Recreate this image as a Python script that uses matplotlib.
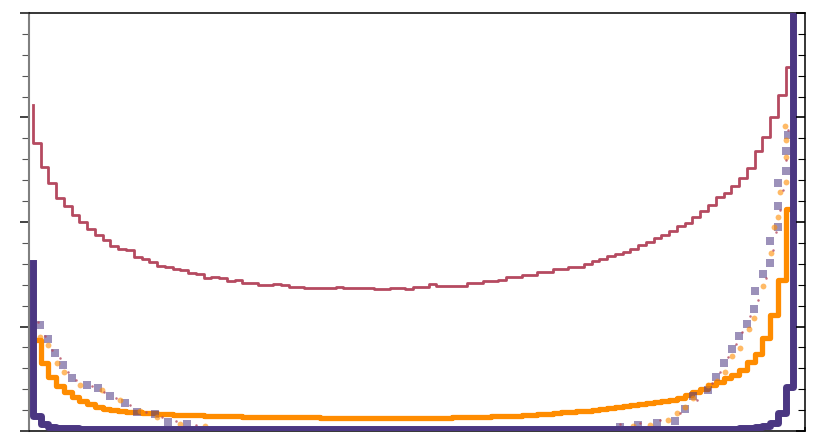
import matplotlib
matplotlib.use("Agg")
import matplotlib.pyplot as plt
import numpy as np

# 100 bins on [0, 1]; values plotted at bin centres with step 'pre'
bin_centers = (np.arange(100) + 0.5) / 100

red_hist = [
    15.6, 13.8, 12.65, 11.88, 11.16, 10.77, 10.35, 10.0, 9.67, 9.38,
    9.14, 8.87, 8.71, 8.66, 8.34, 8.21, 8.07, 7.9, 7.83, 7.75,
    7.7, 7.57, 7.53, 7.34, 7.38, 7.3, 7.18, 7.22, 7.07, 7.1,
    6.99, 6.97, 7.03, 6.97, 6.89, 6.89, 6.83, 6.83, 6.86, 6.86,
    6.9, 6.85, 6.85, 6.84, 6.85, 6.8, 6.79, 6.83, 6.83, 6.79,
    6.9, 6.9, 7.02, 6.95, 6.95, 6.94, 6.94, 7.07, 7.07, 7.18,
    7.18, 7.22, 7.35, 7.35, 7.46, 7.46, 7.62, 7.62, 7.74, 7.74,
    7.86, 7.86, 7.98, 8.13, 8.24, 8.35, 8.48, 8.58, 8.7, 8.88,
    9.03, 9.25, 9.38, 9.57, 9.81, 9.97, 10.22, 10.54, 10.81, 11.21,
    11.4, 11.7, 12.1, 12.6, 13.4, 14.08, 15.04, 16.08, 17.43, 24.0,
]

orange_hist = [
    5.0, 4.35, 3.25, 2.58, 2.15, 1.87, 1.63, 1.44, 1.29, 1.15,
    1.05, 1.0, 0.96, 0.92, 0.89, 0.86, 0.84, 0.82, 0.8, 0.78,
    0.77, 0.76, 0.75, 0.74, 0.73, 0.72, 0.71, 0.7, 0.69, 0.68,
    0.68, 0.67, 0.67, 0.66, 0.66, 0.65, 0.65, 0.65, 0.64, 0.64,
    0.64, 0.64, 0.64, 0.64, 0.64, 0.64, 0.64, 0.64, 0.64, 0.64,
    0.64, 0.64, 0.64, 0.64, 0.64, 0.65, 0.66, 0.67, 0.68, 0.69,
    0.7, 0.71, 0.72, 0.74, 0.76, 0.78, 0.8, 0.83, 0.86, 0.89,
    0.92, 0.95, 0.98, 1.02, 1.06, 1.1, 1.15, 1.2, 1.25, 1.3,
    1.35, 1.4, 1.45, 1.5, 1.6, 1.72, 1.88, 2.02, 2.2, 2.35,
    2.52, 2.7, 2.92, 3.3, 3.7, 4.45, 5.55, 7.22, 10.6, 24.0,
]

purple_hist = [
    8.02, 0.72, 0.32, 0.2, 0.15, 0.13, 0.12, 0.11, 0.1, 0.1,
    0.09, 0.09, 0.09, 0.09, 0.09, 0.09, 0.09, 0.09, 0.09, 0.09,
    0.08, 0.08, 0.08, 0.08, 0.08, 0.08, 0.08, 0.08, 0.08, 0.08,
    0.08, 0.08, 0.08, 0.08, 0.08, 0.08, 0.08, 0.08, 0.08, 0.08,
    0.08, 0.08, 0.08, 0.08, 0.08, 0.08, 0.08, 0.08, 0.08, 0.08,
    0.08, 0.08, 0.08, 0.08, 0.08, 0.08, 0.08, 0.08, 0.08, 0.08,
    0.08, 0.08, 0.08, 0.08, 0.08, 0.08, 0.08, 0.08, 0.08, 0.08,
    0.08, 0.08, 0.08, 0.08, 0.08, 0.08, 0.08, 0.08, 0.08, 0.08,
    0.09, 0.09, 0.09, 0.09, 0.09, 0.09, 0.09, 0.09, 0.09, 0.09,
    0.1, 0.11, 0.12, 0.14, 0.18, 0.25, 0.38, 0.86, 2.12, 30.0,
]

# sampled estimates (scatter)
square_x = [0.0142, 0.0241, 0.0335, 0.0442, 0.055, 0.0744, 0.0893, 0.1044, 0.1237,
            0.1388, 0.1624, 0.1795, 0.2032,
            0.7616, 0.7852, 0.8089, 0.8325, 0.8454, 0.8553, 0.8746, 0.8849, 0.8956,
            0.9055, 0.9153, 0.9249, 0.9343, 0.9356, 0.9455, 0.9549, 0.9549, 0.9648,
            0.9652, 0.9652, 0.9751, 0.9751, 0.9781]
square_y = [5.07, 4.39, 3.72, 3.16, 2.52, 2.2, 2.04, 1.69, 1.33,
            0.92, 0.81, 0.44, 0.33,
            0.21, 0.29, 0.37, 0.49, 1.04, 1.67, 1.96, 2.6, 3.27,
            3.92, 4.55, 5.12, 5.84, 6.71, 7.51, 8.05, 9.09, 9.78,
            10.77, 11.87, 12.44, 13.41, 14.16]

circle_x = [0.0142, 0.0249, 0.0357, 0.0455, 0.0657, 0.0937, 0.1173, 0.143, 0.1646,
            0.1946, 0.2268,
            0.7784, 0.8003, 0.8238, 0.8354, 0.8454, 0.8561, 0.8754, 0.8862, 0.8969,
            0.9055, 0.9162, 0.9282, 0.9343, 0.9463, 0.9558, 0.96, 0.9656, 0.9678,
            0.9751, 0.9751, 0.9751, 0.9742]
circle_y = [4.48, 4.11, 3.24, 2.84, 2.2, 1.96, 1.48, 0.96, 0.68,
            0.33, 0.24,
            0.24, 0.29, 0.53, 0.85, 1.16, 1.56, 2.2, 2.41, 2.84,
            3.59, 3.96, 4.87, 5.39, 6.94, 8.54, 9.75, 10.22, 11.45,
            11.93, 13.12, 13.92, 14.59]

dot_x = [0.0116, 0.0206, 0.0296, 0.04, 0.0503, 0.0606, 0.0812, 0.0966, 0.1121,
         0.1302, 0.1508, 0.1714, 0.1894, 0.2152,
         0.7616, 0.7874, 0.8131, 0.8389, 0.8608, 0.8802, 0.8905, 0.9008, 0.9111,
         0.9188, 0.9291, 0.9394, 0.9497, 0.9588, 0.9626, 0.9678, 0.9716, 0.9755, 0.9781]
dot_y = [5.22, 4.55, 3.88, 3.49, 2.82, 2.44, 2.15, 1.87, 1.58,
         1.24, 0.91, 0.67, 0.48, 0.29,
         0.33, 0.38, 0.53, 0.86, 1.48, 2.3, 2.82, 3.54, 4.16,
         4.74, 5.5, 6.27, 7.32, 8.66, 9.52, 10.57, 11.53, 12.97, 14.4]

PURPLE = "#4b3782"
ORANGE = "#ff8c00"
RED = "#b54a60"

fig = plt.figure(figsize=(8.3, 4.47), dpi=100)
ax = fig.add_axes([29 / 830, 16 / 447, 776 / 830, 418 / 447])

ax.step(bin_centers, red_hist, where="pre", color=RED, lw=2.0, zorder=2)
ax.step(bin_centers, orange_hist, where="pre", color=ORANGE, lw=3.8, zorder=3)
ax.plot(square_x, square_y, "s", color=PURPLE, alpha=0.55, ms=5.5, mew=0, zorder=4)
ax.plot(circle_x, circle_y, "o", color=ORANGE, alpha=0.6, ms=4.2, mew=0, zorder=5)
ax.plot(dot_x, dot_y, "o", color=RED, alpha=0.8, ms=1.8, mew=0, zorder=6)
ax.step(bin_centers, purple_hist, where="pre", color=PURPLE, lw=5.0, zorder=7)

ax.set_xlim(0, 1)
ax.set_ylim(0, 20)

ax.set_xticks([0, 0.25, 0.5, 0.75, 1])
ax.tick_params(axis="x", direction="in", length=3, width=1.1, labelbottom=False)
ax.set_yticks(np.arange(0, 21, 5))
ax.set_yticks(np.arange(0, 21, 1), minor=True)
ax.tick_params(axis="y", which="major", direction="out", length=6.5, width=1.2,
               color="#222222", labelleft=False)
ax.tick_params(axis="y", which="minor", direction="out", length=5, width=0.8,
               color="#555555")

ax.spines["left"].set_color("#808080")
ax.spines["left"].set_linewidth(1.5)
for side in ("top", "bottom", "right"):
    ax.spines[side].set_color("black")
    ax.spines[side].set_linewidth(1.1)

# right side ticks point inwards
ax2 = ax.twinx()
ax2.set_ylim(0, 20)
ax2.set_yticks(np.arange(0, 21, 5))
ax2.set_yticks(np.arange(0, 21, 1), minor=True)
ax2.tick_params(axis="y", which="major", direction="in", length=6.5, width=1.2,
                labelright=False)
ax2.tick_params(axis="y", which="minor", direction="in", length=5, width=0.8)
for s in ax2.spines.values():
    s.set_visible(False)

fig.savefig("out.png", dpi=100)
